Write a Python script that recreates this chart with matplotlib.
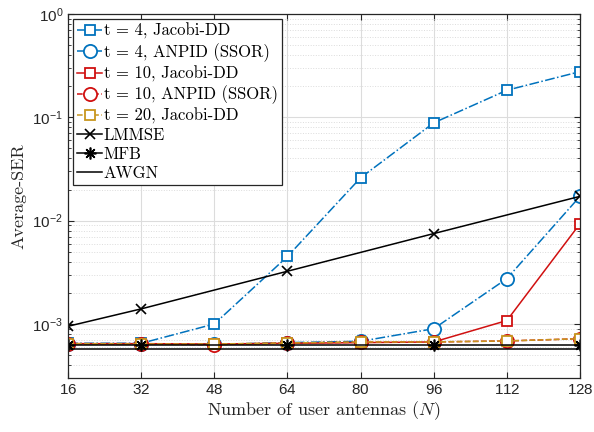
import matplotlib
matplotlib.use('Agg')
import matplotlib.pyplot as plt
from matplotlib.ticker import LogLocator, NullFormatter

# Number of user antennas
N = [16, 32, 48, 64, 80, 96, 112, 128]
N_ref = [16, 32, 64, 96, 128]

# Average SER for each detector
jacobi_t4 = [6.5e-4, 6.5e-4, 1.0e-3, 4.5e-3, 2.6e-2, 8.85e-2, 1.83e-1, 2.77e-1]
anpid_t4 = [6.45e-4, 6.45e-4, 6.35e-4, 6.6e-4, 6.8e-4, 9.0e-4, 2.75e-3, 1.72e-2]
jacobi_t10 = [6.45e-4, 6.45e-4, 6.4e-4, 6.5e-4, 6.6e-4, 6.7e-4, 1.08e-3, 9.35e-3]
anpid_t10 = [6.45e-4, 6.4e-4, 6.3e-4, 6.55e-4, 6.65e-4, 6.7e-4, 6.85e-4, 7.2e-4]
jacobi_t20 = [6.45e-4, 6.4e-4, 6.4e-4, 6.55e-4, 6.7e-4, 6.7e-4, 6.85e-4, 7.2e-4]
lmmse = [9.5e-4, 1.4e-3, 3.24e-3, 7.5e-3, 1.72e-2]
mfb = [6.2e-4, 6.2e-4, 6.2e-4, 6.2e-4, 6.2e-4]
awgn = [5.7e-4, 5.7e-4, 5.7e-4, 5.7e-4, 5.7e-4]

blue = '#0072BD'
red = '#D01010'
gold = '#C8961E'
serif = 'cmr10'

# sans digits for the log tick labels, CM italic for the math symbol in the label
plt.rcParams['axes.formatter.use_mathtext'] = True
plt.rcParams['mathtext.fontset'] = 'custom'
plt.rcParams['mathtext.rm'] = 'Liberation Sans'
plt.rcParams['mathtext.it'] = 'cmmi10'
plt.rcParams['mathtext.default'] = 'regular'

fig = plt.figure(figsize=(5.94, 4.32), dpi=100)
ax = fig.add_axes([0.1145, 0.125, 0.862, 0.8425])

ax.plot(N, jacobi_t4, color=blue, ls='-.', lw=1.1, marker='s', ms=7.5,
        mfc='white', mew=1.3, label='t = 4, Jacobi-DD')
ax.plot(N, anpid_t4, color=blue, ls='-.', lw=1.1, marker='o', ms=9.5,
        mfc='white', mew=1.3, label='t = 4, ANPID (SSOR)')
ax.plot(N, jacobi_t10, color=red, ls='-', lw=1.1, marker='s', ms=7.5,
        mfc='white', mew=1.3, label='t = 10, Jacobi-DD')
ax.plot(N, anpid_t10, color=red, ls='--', lw=1.1, marker='o', ms=9.5,
        mfc='white', mew=1.3, label='t = 10, ANPID (SSOR)')
ax.plot(N, jacobi_t20, color=gold, ls='--', lw=1.1, marker='s', ms=7.5,
        mfc='white', mew=1.3, label='t = 20, Jacobi-DD')
ax.plot(N_ref, lmmse, color='black', lw=1.1, marker='x', ms=6.5, mew=1.2,
        label='LMMSE')
ax.plot(N_ref, mfb, color='black', lw=1.1, marker=(8, 2, 0), ms=8.5, mew=1.2,
        label='MFB')
ax.plot(N_ref, awgn, color='black', lw=1.1, label='AWGN')

ax.set_yscale('log')
ax.set_xlim(16, 128)
ax.set_ylim(3e-4, 1)
ax.set_xticks(N)
ax.yaxis.set_major_locator(LogLocator(base=10, numticks=10))
ax.yaxis.set_minor_locator(LogLocator(base=10, subs=range(2, 10), numticks=20))
ax.yaxis.set_minor_formatter(NullFormatter())

ax.grid(True, which='major', color='#dcdcdc', lw=0.8, ls='-')
ax.grid(True, which='minor', axis='y', color='#dcdcdc', lw=0.7, ls=':')
ax.set_axisbelow(True)

ax.tick_params(which='both', direction='in', top=True, right=True,
               labelsize=11, colors='#262626')
ax.tick_params(which='major', length=4)
ax.tick_params(which='minor', length=2.5)
for lab in ax.get_xticklabels() + ax.get_yticklabels():
    lab.set_fontfamily('Liberation Sans')
for sp in ax.spines.values():
    sp.set_color('#262626')
    sp.set_linewidth(0.9)

ax.set_xlabel(r'Number of user antennas ($\mathit{N}$)', family=serif,
              fontsize=13, color='#262626', labelpad=2)
ax.set_ylabel('Average-SER', family=serif, fontsize=13, color='#262626',
              labelpad=4)

leg = ax.legend(loc='upper left', prop={'family': serif, 'size': 12},
                handlelength=1.5, handletextpad=0.1, labelspacing=0.22,
                borderpad=0.25, borderaxespad=0.3, fancybox=False,
                framealpha=1, edgecolor='#262626')
leg.get_frame().set_linewidth(0.9)

fig.savefig('out.png', dpi=100)
